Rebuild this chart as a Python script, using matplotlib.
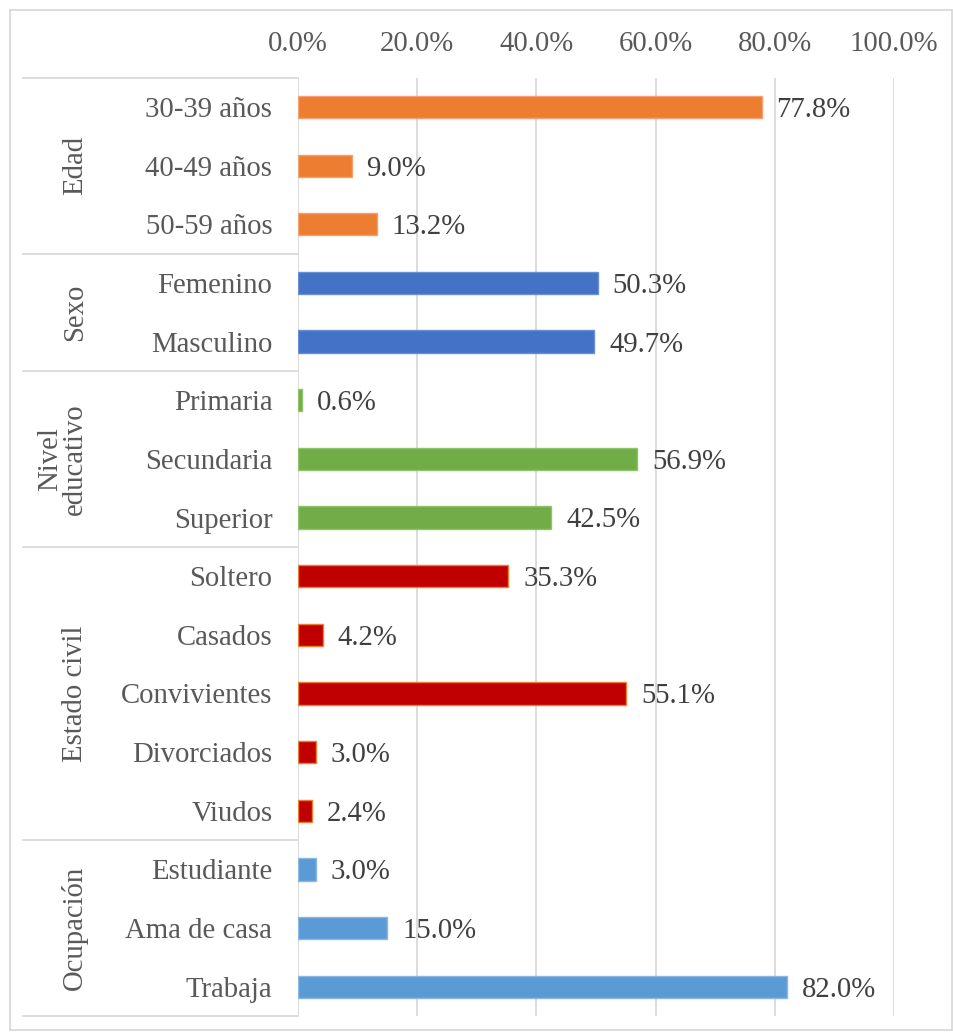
import matplotlib
matplotlib.use("Agg")
import matplotlib.pyplot as plt
from matplotlib.patches import Rectangle
from matplotlib.lines import Line2D

plt.rcParams['font.family'] = ['Liberation Serif', 'DejaVu Serif']

categories = ["30-39 años", "40-49 años", "50-59 años",
              "Femenino", "Masculino",
              "Primaria", "Secundaria", "Superior",
              "Soltero", "Casados", "Convivientes", "Divorciados", "Viudos",
              "Estudiante", "Ama de casa", "Trabaja"]
values = [77.8, 9.0, 13.2,
          50.3, 49.7,
          0.6, 56.9, 42.5,
          35.3, 4.2, 55.1, 3.0, 2.4,
          3.0, 15.0, 82.0]
groups = ["Edad", "Sexo", "Nivel\neducativo", "Estado civil", "Ocupación"]
group_sizes = [3, 2, 3, 5, 3]
group_colors = ["#ED7D31", "#4472C4", "#70AD47", "#C00000", "#5B9BD5"]
group_edges = ["#F4A070", "#6A8FD4", "#90C46C", "#ED7D31", "#8AB8E2"]
xticks = [0, 20, 40, 60, 80, 100]
xtick_labels = ["0.0%", "20.0%", "40.0%", "60.0%", "80.0%", "100.0%"]

W, H = 954, 1036
fig = plt.figure(figsize=(W / 100, H / 100), dpi=100)
fig.patch.set_facecolor("white")

left_px, right_px = 298, 894
top_px, bot_px = 77.7, 1016
ax = fig.add_axes([left_px / W, 1 - bot_px / H, (right_px - left_px) / W, (bot_px - top_px) / H])

txt_color = "#595959"
grid_color = "#D9D9D9"
fs = 20.7

n = len(categories)
pos = list(range(n))
colors, edges = [], []
for c, e, s in zip(group_colors, group_edges, group_sizes):
    colors += [c] * s
    edges += [e] * s

ax.barh(pos, values, height=0.38, color=colors, edgecolor=edges, linewidth=1.0, zorder=3)
for p, v in zip(pos, values):
    ax.text(v + 2.5, p + 0.05, f"{v:.1f}%", ha="left", va="center", fontsize=fs, color="#404040", zorder=4)

ax.set_xlim(0, 100)
ax.set_ylim(n - 0.5, -0.5)
ax.set_xticks(xticks)
ax.set_xticklabels(xtick_labels, fontsize=fs, color=txt_color)
ax.xaxis.tick_top()
ax.tick_params(axis="x", length=0, pad=15)
ax.set_yticks(pos)
ax.set_yticklabels(categories, fontsize=fs, color=txt_color)
ax.tick_params(axis="y", length=0, pad=18.5)
for sp in ax.spines.values():
    sp.set_visible(False)
ax.grid(axis="x", color=grid_color, linewidth=1.3, zorder=0)
ax.set_axisbelow(True)

# group separator lines and group labels
trans = ax.get_yaxis_transform()
x_line_start = (23 - left_px) / (right_px - left_px)
bounds = [-0.5]
for s in group_sizes:
    bounds.append(bounds[-1] + s)
for b in bounds:
    ax.add_line(Line2D([x_line_start, 0], [b, b], transform=trans, color=grid_color,
                       linewidth=1.3, clip_on=False))
x_group = (88 - left_px) / (right_px - left_px)
for g, b0, b1 in zip(groups, bounds[:-1], bounds[1:]):
    ax.text(x_group, (b0 + b1) / 2, g, transform=trans, rotation=90, ha="right", va="center",
            fontsize=fs, color=txt_color, linespacing=0.95, multialignment="center")

# outer frame
fig.add_artist(Rectangle((10 / W, 1 - 1030 / H), (952 - 10) / W, (1030 - 10) / H,
                         transform=fig.transFigure, fill=False, edgecolor=grid_color, linewidth=1.3))

fig.savefig("out.png", dpi=100, facecolor="white")
